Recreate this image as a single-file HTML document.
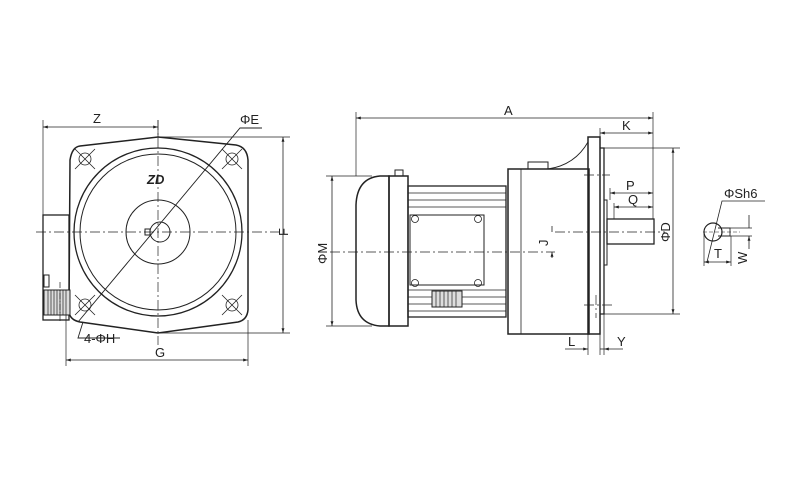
<!DOCTYPE html>
<html><head><meta charset="utf-8"><style>html,body{margin:0;padding:0;background:#fff}svg{display:block}text{font-family:"Liberation Sans",sans-serif;font-size:13px;fill:#222}</style></head><body>
<svg width="800" height="500" viewBox="0 0 800 500" xmlns="http://www.w3.org/2000/svg">
<defs><marker id="a" viewBox="0 0 10 10" refX="10" refY="5" markerWidth="6" markerHeight="6" orient="auto-start-reverse"><path d="M0,2L10,5L0,8z" fill="#222"/></marker></defs>
<g stroke="#222" fill="none" stroke-width="1">
<path d="M80,146 Q72,147 70,160 L69,312 Q70,320 80,322 L158,333 L238,322 Q247,320 248,310 L248,160 Q247,147 236,145 L158,137 Z" stroke-width="1.5"/>
<circle cx="158" cy="232" r="84" stroke-width="1.3"/>
<circle cx="158" cy="232" r="78"/>
<circle cx="158" cy="232" r="32"/>
<circle cx="160" cy="232" r="10"/>
<rect x="145" y="229" width="5" height="6"/>
<g stroke-width="0.8">
<circle cx="85" cy="159" r="6"/><circle cx="232" cy="159" r="6"/><circle cx="85" cy="305" r="6"/><circle cx="232" cy="305" r="6"/>
<path d="M75,149l20,20M95,149l-20,20M222,149l20,20M242,149l-20,20M75,295l20,20M95,295l-20,20M222,295l20,20M242,295l-20,20"/>
</g>
<rect x="43" y="215" width="26" height="105" stroke-width="1.3"/>
<rect x="44" y="275" width="5" height="12"/>
<rect x="44" y="290" width="26" height="25" fill="#ddd"/>
<path d="M48,290v25M51,290v25M54,290v25M57,290v25M60,290v25M63,290v25M66,290v25" stroke-width="0.7"/>
<path d="M60,282v40" stroke-dasharray="6,2,1,2" stroke-width="0.7"/>
<path d="M36,232H280M158,120V345" stroke-dasharray="10,3,2,3" stroke-width="0.7"/>
<path d="M78,322L240,128H262" stroke-width="0.9"/>
<path d="M83,322L78,338H120" stroke-width="0.9"/>
<path d="M43,215V120M158,137V120" stroke-width="0.7"/>
<path d="M43,127H158" marker-start="url(#a)" marker-end="url(#a)" stroke-width="0.8"/>
<path d="M158,137H290M158,333H290" stroke-width="0.7"/>
<path d="M283,137V333" marker-start="url(#a)" marker-end="url(#a)" stroke-width="0.8"/>
<path d="M66,315V366M248,320V366" stroke-width="0.7"/>
<path d="M66,360H248" marker-start="url(#a)" marker-end="url(#a)" stroke-width="0.8"/>

<path d="M389,176H380Q357,178 356,205V300Q357,324 380,326H389Z" stroke-width="1.5"/>
<rect x="389" y="176" width="19" height="150" stroke-width="1.5"/>
<rect x="395" y="170" width="8" height="6"/>
<rect x="408" y="186" width="98" height="131" stroke-width="1.3"/>
<path d="M408,193H506M408,200H506M408,207H506M408,290H506M408,297H506M408,304H506M408,311H506" stroke-width="0.7"/>
<rect x="410" y="215" width="74" height="70" fill="#fff"/>
<g stroke-width="0.8"><circle cx="415" cy="219" r="3.5"/><circle cx="478" cy="219" r="3.5"/><circle cx="415" cy="283" r="3.5"/><circle cx="478" cy="283" r="3.5"/></g>
<rect x="432" y="291" width="30" height="16" fill="#ddd"/>
<path d="M436,291v16M440,291v16M444,291v16M448,291v16M452,291v16M456,291v16" stroke-width="0.7"/>
<rect x="508" y="169" width="81" height="165" stroke-width="1.5"/>
<path d="M521,169V334" stroke-width="0.8"/>
<rect x="528" y="162" width="20" height="7"/>
<path d="M548,169Q575,165 588,142" stroke-width="0.9"/>
<path d="M588,137H600V334H588Z" stroke-width="1.5"/>
<path d="M600,148H604V314H600" stroke-width="1.3"/>
<path d="M604,200H607V265H604"/>
<rect x="607" y="219" width="47" height="25" stroke-width="1.3"/>
<path d="M330,252H555M555,232H665M584,175H610M584,305H612M596,295V318" stroke-dasharray="10,3,2,3" stroke-width="0.7"/>
<path d="M356,176V112M653,219V112" stroke-width="0.7"/>
<path d="M356,118H653" marker-start="url(#a)" marker-end="url(#a)" stroke-width="0.8"/>
<path d="M600,137V128" stroke-width="0.7"/>
<path d="M600,133H653" marker-start="url(#a)" marker-end="url(#a)" stroke-width="0.8"/>
<path d="M610,200V188M614,219V203" stroke-width="0.7"/>
<path d="M610,193H653" marker-start="url(#a)" marker-end="url(#a)" stroke-width="0.8"/>
<path d="M614,207H653" marker-start="url(#a)" marker-end="url(#a)" stroke-width="0.8"/>
<path d="M604,148H680M604,314H680" stroke-width="0.7"/>
<path d="M673,148V314" marker-start="url(#a)" marker-end="url(#a)" stroke-width="0.8"/>
<path d="M372,176H326M372,326H326" stroke-width="0.7"/>
<path d="M332,176V326" marker-start="url(#a)" marker-end="url(#a)" stroke-width="0.8"/>
<path d="M552,226V232M552,258V252" stroke-width="0.8" marker-end="url(#a)"/>
<path d="M588,334V355M600,334V355M604,314V355" stroke-width="0.7"/>
<path d="M565,349H588" marker-end="url(#a)" stroke-width="0.8"/>
<path d="M623,349H604" marker-end="url(#a)" stroke-width="0.8"/>
<path d="M600,349H604" stroke-width="0.8"/>

<circle cx="713" cy="232" r="9" stroke-width="1.2"/>
<path d="M718,228H730V236H718" stroke-width="0.9"/>
<path d="M703,232H740" stroke-dasharray="4,2" stroke-width="0.6"/>
<path d="M707,262L722,201H765" stroke-width="0.8"/>
<path d="M704,232V266M731,236V266M730,228H752M730,236H752" stroke-width="0.7"/>
<path d="M704,262H731" marker-start="url(#a)" marker-end="url(#a)" stroke-width="0.8"/>
<path d="M749,215V228M749,249V236" marker-end="url(#a)" stroke-width="0.8"/>
</g>
<text x="147" y="184" style="font-weight:bold;font-style:italic;font-size:13px">ZD</text>
<text x="93" y="123">Z</text>
<text x="240" y="124">ΦE</text>
<text x="155" y="357">G</text>
<text x="84" y="343">4-ΦH</text>
<text transform="translate(288,236) rotate(-90)">F</text>
<text x="504" y="115">A</text>
<text x="622" y="130">K</text>
<text x="626" y="190">P</text>
<text x="628" y="204">Q</text>
<text transform="translate(670,242) rotate(-90)">ΦD</text>
<text transform="translate(327,264) rotate(-90)">ΦM</text>
<text transform="translate(548,246) rotate(-90)">J</text>
<text x="568" y="346">L</text>
<text x="617" y="346">Y</text>
<text x="724" y="198">ΦSh6</text>
<text x="714" y="258">T</text>
<text transform="translate(747,264) rotate(-90)">W</text>
</svg>
</body></html>
